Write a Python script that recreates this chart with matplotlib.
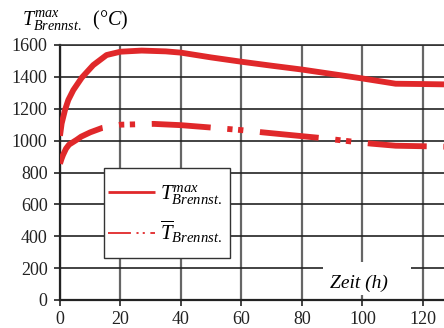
import matplotlib
matplotlib.use("Agg")
import matplotlib.pyplot as plt
from matplotlib.lines import Line2D
from matplotlib.patches import Rectangle

plt.rcParams['font.family'] = ['Liberation Serif', 'DejaVu Serif']
plt.rcParams['mathtext.fontset'] = 'custom'
plt.rcParams['mathtext.rm'] = 'Liberation Serif'
plt.rcParams['mathtext.it'] = 'Liberation Serif:italic'
plt.rcParams['lines.scale_dashes'] = False

# Daten
zeit_max = [0, 0.55, 1.65, 2.75, 4.4, 7.2, 11, 15.4, 20, 27, 35, 40, 50, 60, 70, 80, 90,
            100, 111, 120, 127]
temp_max = [1030, 1108, 1192, 1255, 1317, 1395, 1474, 1537, 1558, 1565, 1560, 1552, 1522,
            1495, 1470, 1446, 1418, 1390, 1357, 1355, 1353]

zeit_mit = [0, 0.5, 1, 2, 3, 5.5, 7, 10, 14, 20, 31, 40, 50, 60, 67, 80, 86, 93, 97, 103,
            111, 122.5, 127]
temp_mit = [855, 885, 910, 950, 975, 1005, 1025, 1052, 1080, 1100, 1105, 1097, 1082, 1066,
            1052, 1028, 1017, 1002, 993, 981, 968, 964, 962]

xticks = [0, 20, 40, 60, 80, 100, 120]
yticks = [0, 200, 400, 600, 800, 1000, 1200, 1400, 1600]

rot = '#e0282a'
strich = (0, (42.5, 12, 3.8, 4, 3.8, 12))

W, H = 444, 328


def fx(px):
    return px / W


def fy(py):
    return 1 - py / H


fig = plt.figure(figsize=(4.44, 3.28), dpi=100)
ax = fig.add_axes([60/W, 28/H, 384/W, 255/H])

ax.plot(zeit_max, temp_max, color=rot, lw=4.2, solid_capstyle='butt', zorder=3)
ax.plot(zeit_mit, temp_mit, color=rot, lw=4.2, linestyle=strich, zorder=3)

ax.set_xlim(0, 127)
ax.set_ylim(0, 1600)
ax.set_xticks(xticks)
ax.set_yticks(yticks)
ax.tick_params(labelsize=13, direction='out', length=4, width=1.2, colors='#222222')
ax.tick_params(axis='y', pad=5)
ax.tick_params(axis='x', pad=4)

ax.set_axisbelow(True)
ax.xaxis.grid(True, color='#666666', lw=1.6)
ax.yaxis.grid(True, color='#222222', lw=1.2)
ax.spines['right'].set_visible(False)
ax.spines['top'].set_color('#333333')
ax.spines['top'].set_linewidth(1.2)
for s in ['left', 'bottom']:
    ax.spines[s].set_color('#222222')
    ax.spines[s].set_linewidth(1.6)

# Achsenbeschriftungen
ax.add_patch(Rectangle((87, 31), 29, 208, facecolor='white', edgecolor='none', zorder=1))
ax.text(98.8, 107, 'Zeit (h)', style='italic', fontsize=14, ha='center', va='center', zorder=2)
fig.text(fx(22), fy(25), r'$T^{max}_{Brennst.}\ \ (°C)$', fontsize=14.5, ha='left', va='baseline')

# Legende (von Hand)
box = Rectangle((fx(104), fy(258)), 126/W, 90/H, transform=fig.transFigure,
                facecolor='white', edgecolor='#333333', lw=1.0, zorder=5, clip_on=False)
ax.add_artist(box)
l1 = Line2D([fx(108), fx(155)], [fy(192), fy(192)], transform=fig.transFigure, color=rot,
            lw=2, solid_capstyle='butt', zorder=6, clip_on=False)
l2 = Line2D([fx(108), fx(155)], [fy(233), fy(233)], transform=fig.transFigure, color=rot,
            lw=1.3, linestyle=(0, (16.5, 4, 1.5, 3, 1.5, 4)), zorder=6, clip_on=False)
ax.add_artist(l1)
ax.add_artist(l2)
ax.text(fx(160), fy(200), r'$T^{max}_{Brennst.}$', transform=fig.transFigure, fontsize=15,
        va='baseline', zorder=7)
ax.text(fx(160), fy(240), r'$\overline{T}_{Brennst.}$', transform=fig.transFigure, fontsize=15,
        va='baseline', zorder=7)

fig.savefig('out.png', dpi=100)
